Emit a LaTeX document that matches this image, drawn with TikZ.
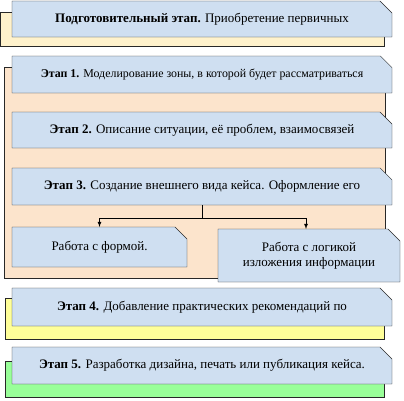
\documentclass[tikz,border=0pt]{standalone}
\usepackage{fontspec}
\setmainfont{Liberation Serif}
\usepackage{tikz}
\usetikzlibrary{positioning,shapes,shapes.misc,arrows}

\definecolor{stageblue}{RGB}{207,223,241}
\definecolor{prepcream}{RGB}{255,242,204}
\definecolor{peach}{RGB}{252,228,204}
\definecolor{lemon}{RGB}{255,255,153}
\definecolor{mint}{RGB}{153,255,153}
\definecolor{edge}{RGB}{40,40,40}

\tikzset{
  stagebox/.style = {draw=edge, fill=stageblue, chamfered rectangle,
    chamfered rectangle corners=north east, chamfered rectangle xsep=6pt,
    chamfered rectangle ysep=6pt, inner sep=0pt, outer sep=0pt,
    font=\fontsize{13}{15}\selectfont, align=center},
  backbox/.style = {draw=edge, rectangle, inner sep=0pt, outer sep=0pt},
}

\begin{document}
\begin{tikzpicture}[x=1pt, y=-1pt]
        \useasboundingbox (0,0) rectangle (404,400);

        \node(prepback)[backbox, fill=prepcream, minimum width=384pt, minimum height=34pt] at (192,29) {};
        \node(prep)[stagebox, minimum width=380pt, minimum height=36pt] at (202,19)
            {\textbf{Подготовительный этап.} Приобретение первичных};

        \node(midback)[backbox, fill=peach, minimum width=381pt, minimum height=211pt] at (194.5,172.5) {};
        \node(s1)[stagebox, minimum width=380pt, minimum height=37pt, font=\fontsize{11.9}{14}\selectfont] at (202,74.5)
            {\textbf{Этап 1.} Моделирование зоны, в которой будет рассматриваться};
        \node(s2)[stagebox, minimum width=380pt, minimum height=36pt] at (202,130)
            {\textbf{Этап 2.} Описание ситуации, её проблем, взаимосвязей};
        \node(s3)[stagebox, minimum width=380pt, minimum height=37pt] at (202,186.5)
            {\textbf{Этап 3.} Создание внешнего вида кейса. Оформление его};
        \node(form)[stagebox, minimum width=175pt, minimum height=40pt] at (99.5,247)
            {Работа с формой.};
        \node(logic)[stagebox, minimum width=182pt, minimum height=53pt] at (309,255.5)
            {Работа с логикой\\изложения информации};

        \node(s4back)[backbox, fill=lemon, minimum width=379pt, minimum height=41pt] at (194.5,318.5) {};
        \node(s4)[stagebox, minimum width=380pt, minimum height=38pt] at (202,307)
            {\textbf{Этап 4.} Добавление практических рекомендаций по};

        \node(s5back)[backbox, fill=mint, minimum width=379pt, minimum height=36pt] at (194.5,379) {};
        \node(s5)[stagebox, minimum width=380pt, minimum height=37pt] at (202,365.5)
            {\textbf{Этап 5.} Разработка дизайна, печать или публикация кейса.};

        \coordinate(split) at (202,218);
        \draw[thick] (s3.south) -- (split);
        \draw[thick, -latex] (split) -| (form.north);
        \draw[thick, -latex] (split) -| ([xshift=-3pt]logic.north);

    \end{tikzpicture}
\end{document}
